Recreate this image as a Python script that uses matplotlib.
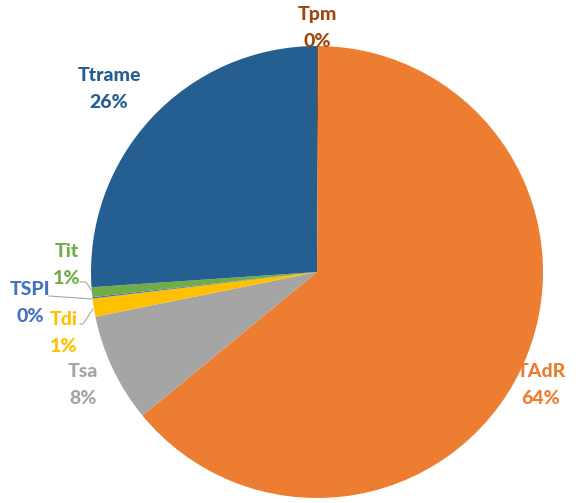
import matplotlib.pyplot as plt

names = ['Tpm', 'TAdR', 'Tsa', 'Tdi', 'TSPI', 'Tit', 'Ttrame']
shares = [0.1, 64.0, 7.8, 1.3, 0.1, 0.7, 26.1]
colors = ['#9E480E', '#ED7D31', '#A5A5A5', '#FFC000', '#4472C4', '#70AD47', '#255E91']

W, H = 578, 503
cx, cy, R = 317, 272, 226


def px(x, y):
    # pixel position -> pie data coords (radius 1)
    return (x - cx) / R, (cy - y) / R


# label centres in pixels
label_pos = {
    'Tpm': (317, 28), 'TAdR': (541, 385), 'Tsa': (83, 385), 'Tdi': (64, 333),
    'TSPI': (30, 303), 'Tit': (67, 265), 'Ttrame': (109, 89),
}
# leader lines (pixels) for the small slices
leaders = {
    'Tit': [(80, 282), (86, 282), (92, 291)],
    'TSPI': [(49, 296), (92, 299)],
    'Tdi': [(80, 324), (83, 324), (93, 309)],
}

plt.rcParams['font.family'] = ['Lato', 'DejaVu Sans']

fig = plt.figure(figsize=(W / 100, H / 100), dpi=100)
ax = fig.add_axes([0, 0, 1, 1])
ax.pie(shares, colors=colors, startangle=90, counterclock=False, radius=1,
       wedgeprops=dict(linewidth=0))
ax.set_aspect('equal')
ax.set_xlim(-cx / R, (W - cx) / R)
ax.set_ylim(-(H - cy) / R, cy / R)
ax.axis('off')

for n, v, c in zip(names, shares, colors):
    x, y = px(*label_pos[n])
    ax.text(x, y, f"{n}\n{v:.0f}%", color=c, fontsize=14, fontweight='black',
            ha='center', va='center', linespacing=1.75)

for n, pts in leaders.items():
    xy = [px(*p) for p in pts]
    ax.plot([p[0] for p in xy], [p[1] for p in xy], color='#A6A6A6', lw=0.8)

fig.savefig('out.png', dpi=100)
